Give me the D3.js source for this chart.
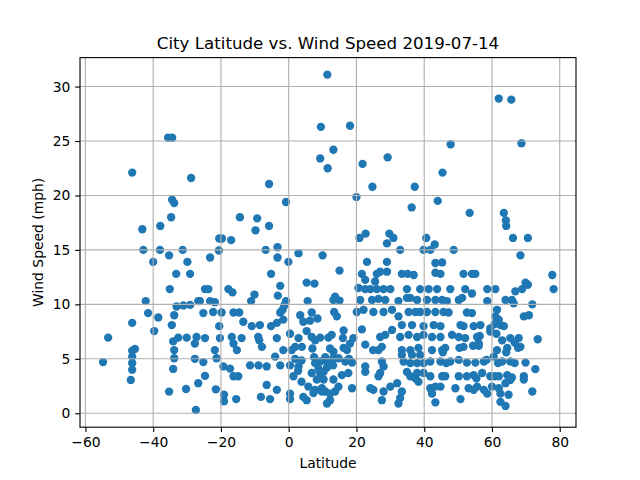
<!DOCTYPE html>
<html>
<head>
<meta charset="utf-8">
<script src="https://cdn.jsdelivr.net/npm/d3@7"></script>
<style>
  body {margin: 0; background: #fff;}
  text {font-family: "DejaVu Sans", sans-serif; fill: #000;}
</style>
</head>
<body>
<div id="chart"></div>
<script>
var title = 'City Latitude vs. Wind Speed 2019-07-14'
var xLabel = 'Latitude'
var yLabel = 'Wind Speed (mph)'
var xTicks = [-60, -40, -20, 0, 20, 40, 60, 80]
var yTicks = [0, 5, 10, 15, 20, 25, 30]

// [latitude, wind speed], grouped by band of latitude
var farSouth = [
  [-35.6,25.3],[-34.4,25.3],[-46.2,22.1],[-28.8,21.6],[-34.4,19.6],[-33.8,19.3],[-34.7,18.0],
  [-43.2,16.9],[-37.9,17.2],[-42.9,15.0],[-38.0,15.0],[-31.3,15.0],[-40.0,13.9],[-35.3,14.5],
  [-29.9,13.9],[-33.2,12.8],[-29.1,12.8],[-35.1,11.4],[-24.7,11.4],[-42.2,10.3],[-33.1,9.8],
  [-31.1,9.9],[-29.1,9.95],[-26.7,10.3],[-41.5,9.2],[-38.5,8.8],[-33.8,9.0],[-25.2,9.2],
  [-46.2,8.3],[-34.5,8.1],[-39.7,7.55],[-53.3,6.95],[-34.1,6.6],[-32.6,6.95],[-30.1,6.95],
  [-27.2,7.0],[-27.7,6.4],[-24.7,6.9],[-46.2,5.75],[-45.4,5.9],[-46.2,5.2],[-46.2,4.6],
  [-46.2,4.0],[-46.6,3.06],[-33.8,5.8],[-33.8,5.05],[-54.8,4.7],[-34.1,4.07],[-27.7,5.0],
  [-25.2,4.7],[-24.7,3.43],[-26.7,2.76],[-30.3,2.23],[-35.3,1.99],[-27.4,0.3]
]

var tropicsSouth = [
  [-5.8,21.05],[-0.8,19.4],[-14.4,18.0],[-9.3,17.9],[-9.8,16.8],[-5.8,17.2],[-20.5,16.05],
  [-19.7,16.05],[-17.0,15.9],[-3.3,15.25],[-20.6,14.95],[-23.2,14.3],[-6.8,15.0],[-3.3,14.3],
  [-0.1,13.9],[-5.2,12.8],[-2.5,11.7],[-23.7,11.4],[-17.8,11.4],[-16.6,11.1],[-10.1,10.9],
  [-11.1,10.3],[-3.2,10.8],[-0.8,10.3],[-1.3,9.9],[-1.8,9.5],[-2.5,9.25],[-26.2,10.3],
  [-23.2,10.3],[-21.8,10.2],[-22.3,9.3],[-19.8,9.25],[-16.3,9.25],[-14.6,9.25],[-13.4,8.4],
  [-10.9,8.0],[-8.5,8.1],[-5.2,8.0],[-3.5,8.3],[-1.6,8.6],[-20.5,8.0],[-20.3,6.9],[-16.8,7.0],
  [-13.9,6.9],[-16.3,6.4],[-15.3,5.8],[-9.0,7.0],[-7.9,6.1],[-8.7,6.7],[-3.5,6.9],[-1.6,5.8],
  [-21.8,5.8],[-21.3,5.05],[-19.3,4.3],[-17.3,4.1],[-16.3,3.4],[-14.9,3.4],[-11.4,4.4],
  [-8.9,4.4],[-6.5,4.3],[-4.0,5.2],[-2.5,4.4],[-6.5,2.6],[-3.5,2.15],[-5.5,1.3],[-8.2,1.5],
  [-21.5,2.2],[-19.1,1.7],[-19.1,1.1],[-15.5,1.3]
]

var tropicsNorth = [
  [11.4,31.1],[9.5,26.3],[9.3,23.4],[11.5,22.5],[18.1,26.4],[13.2,24.2],[21.8,22.9],[20.0,19.85],
  [2.9,14.7],[10.0,14.5],[5.3,12.0],[7.6,11.9],[5.6,10.3],[3.4,9.0],[6.8,9.25],[4.3,8.4],
  [6.3,8.5],[5.3,7.55],[7.8,6.7],[6.8,7.0],[0.4,7.3],[2.9,6.9],[0.9,5.8],[3.9,6.1],[0.4,4.4],
  [2.9,4.3],[0.4,1.8],[0.4,1.3],[5.3,1.2],[7.8,4.6],[8.8,4.1],[6.8,3.7],[10.3,3.8],[8.3,3.1],
  [5.8,2.45],[7.8,2.15],[9.8,2.3],[7.3,1.85],[4.3,1.5],[20.9,16.1],[22.7,16.5],[23.1,13.9],
  [15.0,13.1],[21.6,12.8],[22.6,12.25],[20.6,11.5],[22.6,11.4],[13.7,10.7],[15.0,10.35],
  [13.2,10.4],[21.1,10.4],[13.4,9.3],[14.2,8.9],[20.1,9.3],[22.1,9.5],[21.6,7.7],[16.2,7.6],
  [16.0,6.9],[9.3,6.95],[11.7,6.95],[19.1,6.9],[18.1,6.4],[17.2,5.8],[16.2,6.0],[22.6,6.3],
  [9.3,4.75],[11.3,4.75],[13.2,5.65],[14.7,5.05],[13.2,5.05],[16.7,4.75],[18.7,4.65],[22.6,4.3],
  [22.6,3.8],[9.3,3.7],[10.3,3.1],[10.8,2.0],[13.2,3.1],[13.7,2.0],[14.7,2.45],[15.7,3.5],
  [17.6,3.7],[18.7,2.3],[11.3,0.9],[12.2,1.2],[9.8,2.0],
  [8.5,8.7],[12.7,7.2],[1.9,6.1],[7.0,5.95],[12.2,5.95],[24.9,5.8],[10.8,5.15],[7.5,5.15],
  [17.8,5.0],[1.9,5.0],[3.8,4.85],[11.3,4.2],[13.1,4.4],[2.8,3.9],[1.4,3.4],[3.8,2.9],[12.2,1.8]
]

var midNorth = [
  [29.2,23.5],[45.4,22.1],[24.7,20.8],[37.2,20.8],[36.3,18.9],[44.0,19.5],[29.7,16.5],[30.9,16.1],
  [29.0,15.6],[40.6,16.1],[43.1,15.5],[47.8,24.7],[32.9,15.0],[39.8,15.0],[41.8,15.0],[29.0,13.9],
  [43.3,13.8],[45.3,13.85],[26.0,12.8],[27.0,13.0],[29.0,13.0],[33.4,12.8],[35.1,12.8],[36.9,12.7],
  [43.3,12.9],[44.8,12.8],[25.5,12.1],[24.1,11.4],[26.0,11.4],[28.0,11.4],[30.0,11.4],[34.9,11.4],
  [38.8,11.4],[41.3,11.4],[43.8,11.4],[24.6,10.4],[26.5,10.5],[28.5,10.4],[32.4,10.3],[34.9,10.6],
  [35.9,10.6],[37.9,10.4],[40.8,10.4],[43.3,10.4],[45.3,10.4],[25.0,9.3],[28.0,9.3],[30.5,9.5],
  [32.4,8.9],[35.4,9.3],[37.4,9.3],[38.8,9.3],[40.8,9.3],[43.3,9.3],[45.7,9.3],[33.4,8.1],
  [36.4,8.1],[39.8,8.0],[42.8,8.1],[44.8,8.0],[27.0,7.0],[28.5,7.2],[30.5,7.65],[32.9,7.0],
  [35.4,7.2],[37.9,7.0],[39.8,7.2],[42.3,7.0],[44.8,7.0],[26.5,5.8],[27.5,6.1],[33.4,5.8],
  [35.9,5.8],[38.3,6.0],[42.3,5.8],[45.3,5.8],[33.4,5.35],[36.4,5.35],[38.8,5.35],[27.5,4.75],
  [28.0,4.3],[27.0,3.7],[26.5,3.4],[33.9,4.75],[35.9,4.6],[37.9,4.6],[34.9,3.8],[35.9,3.4],
  [37.9,3.7],[39.8,4.6],[41.8,4.75],[44.8,4.75],[39.8,3.7],[41.8,3.4],[45.3,3.4],[24.1,2.3],
  [25.0,2.15],[28.0,2.0],[30.0,2.45],[32.0,2.76],[33.4,2.0],[32.9,1.4],[27.5,1.2],[32.4,0.9],
  [37.4,3.2],[38.3,2.9],[41.8,2.3],[43.3,2.45],[44.8,2.45],[43.3,1.0],[42.3,1.8]
]

var farNorth = [
  [62.0,28.9],[65.7,28.8],[68.7,24.8],[53.4,18.4],[63.5,18.4],[64.1,17.7],[64.2,17.2],[66.2,16.1],
  [70.6,16.1],[48.7,15.0],[68.4,14.5],[51.6,12.8],[54.1,12.8],[55.1,12.8],[77.8,12.7],[78.2,11.4],
  [69.9,12.0],[70.6,11.8],[47.7,11.4],[52.1,11.4],[54.1,11.0],[58.6,11.4],[61.0,11.4],[66.9,11.2],
  [68.9,11.4],[46.7,10.3],[50.2,10.4],[51.2,10.6],[58.6,10.3],[64.0,10.4],[65.9,10.4],[66.4,10.1],
  [71.9,10.0],[47.2,9.25],[52.6,9.25],[54.1,9.2],[61.5,9.5],[61.0,8.9],[62.0,8.6],[69.4,8.9],
  [70.9,9.0],[50.7,8.1],[51.6,8.0],[54.6,8.0],[56.6,8.1],[59.5,7.8],[62.5,8.1],[63.5,8.0],
  [48.2,7.2],[50.2,7.0],[52.1,6.9],[55.6,7.0],[56.1,6.4],[59.5,7.5],[63.0,6.7],[65.4,6.9],
  [67.9,6.9],[73.5,6.8],[46.2,6.0],[51.6,6.1],[56.1,6.2],[61.5,5.8],[64.5,6.0],[68.4,6.1],
  [47.7,4.75],[50.2,4.9],[52.6,4.65],[55.1,4.65],[57.6,4.75],[60.5,5.2],[63.0,4.75],[65.4,4.75],
  [69.9,4.65],[72.8,4.05],[46.2,3.4],[50.2,3.4],[52.6,3.4],[54.6,3.5],[57.1,3.7],[59.5,3.4],
  [62.0,3.4],[64.5,3.5],[65.9,3.3],[69.4,3.4],[69.4,3.1],[49.2,2.3],[53.1,2.3],[55.6,2.45],
  [57.6,2.15],[60.0,2.45],[62.0,2.3],[64.0,2.76],[65.4,3.06],[64.9,1.7],[62.5,1.8],[58.6,1.8],
  [54.6,2.15],[50.7,1.3],[62.5,1.05],[64.0,0.67],[71.9,2.0],
  [45.5,5.6],[50.4,6.0],[56.4,7.1],[54.4,6.2],[60.8,8.2],[61.3,7.3],[67.7,6.0],[66.7,6.5],
  [64.2,5.6],[46.5,4.6],[58.4,4.9],[61.8,4.6],[66.7,4.6],[55.4,3.2],[60.8,3.4]
]

var cities = farSouth.concat(tropicsSouth, tropicsNorth, midNorth, farNorth)

var pt = 100 / 72
var blue = '#1f77b4'
var gridColor = '#b0b0b0'

var svg = d3.select('#chart').append('svg')
  .attr('width', 640)
  .attr('height', 480)

svg.append('rect').attr('width', 640).attr('height', 480).attr('fill', '#fff')

var plotL = 80, plotR = 576, plotT = 57.6, plotB = 427.2

var x = d3.scaleLinear().domain([-61.6, 84.8]).range([plotL, plotR])
var y = d3.scaleLinear().domain([-1.28, 32.66]).range([plotB, plotT])

// points first, grid drawn over them like matplotlib does
svg.append('g').selectAll('circle')
  .data(cities)
  .join('circle')
  .attr('cx', d => x(d[0]))
  .attr('cy', d => y(d[1]))
  .attr('r', 3 * pt)
  .attr('fill', blue)

var grid = svg.append('g')
grid.selectAll('.gx').data(xTicks).join('line')
  .attr('x1', d => x(d)).attr('x2', d => x(d))
  .attr('y1', plotT).attr('y2', plotB)
  .attr('stroke', gridColor).attr('stroke-width', 0.8 * pt)
grid.selectAll('.gy').data(yTicks).join('line')
  .attr('y1', d => y(d)).attr('y2', d => y(d))
  .attr('x1', plotL).attr('x2', plotR)
  .attr('stroke', gridColor).attr('stroke-width', 0.8 * pt)

var xAxis = d3.axisBottom(x).tickValues(xTicks).tickSize(3.5 * pt).tickPadding(3.5 * pt)
var yAxis = d3.axisLeft(y).tickValues(yTicks).tickSize(3.5 * pt).tickPadding(3.5 * pt)

function styleAxis(g){
  g.select('.domain').remove()
  g.selectAll('line').attr('stroke', '#000').attr('stroke-width', 0.8 * pt)
  g.selectAll('text').attr('font-size', 10 * pt).attr('font-family', '"DejaVu Sans", sans-serif').attr('fill', '#000')
}

svg.append('g').attr('transform', `translate(0,${plotB})`).call(xAxis).call(styleAxis)
svg.append('g').attr('transform', `translate(${plotL},0)`).call(yAxis).call(styleAxis)

svg.append('rect')
  .attr('x', plotL).attr('y', plotT)
  .attr('width', plotR - plotL).attr('height', plotB - plotT)
  .attr('fill', 'none').attr('stroke', '#000').attr('stroke-width', 0.8 * pt)

svg.append('text')
  .attr('x', (plotL + plotR) / 2).attr('y', 49.3)
  .attr('text-anchor', 'middle').attr('font-size', 12 * pt)
  .text(title)

svg.append('text')
  .attr('x', (plotL + plotR) / 2).attr('y', 467.5)
  .attr('text-anchor', 'middle').attr('font-size', 10 * pt)
  .text(xLabel)

svg.append('text')
  .attr('transform', `translate(43,${(plotT + plotB) / 2}) rotate(-90)`)
  .attr('text-anchor', 'middle').attr('font-size', 10 * pt)
  .text(yLabel)
</script>
</body>
</html>
